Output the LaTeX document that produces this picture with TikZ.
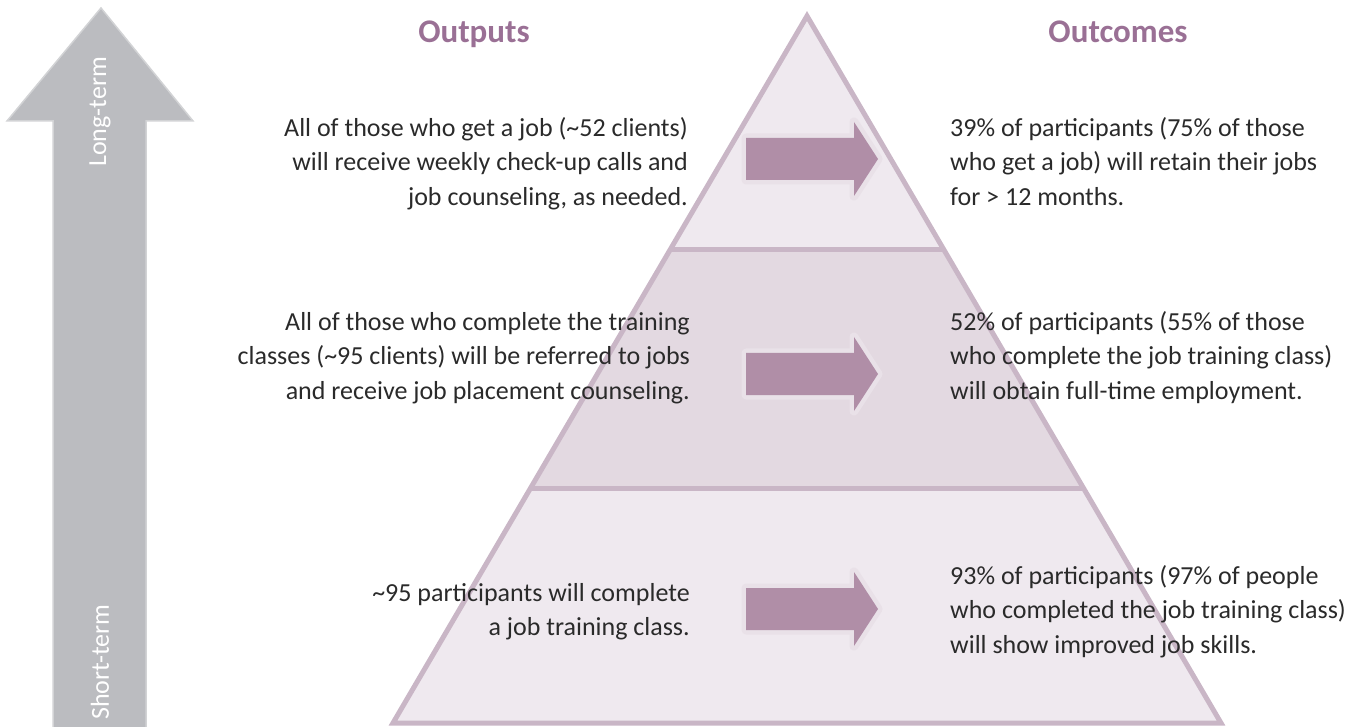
\documentclass[tikz,border=0pt]{standalone}
\usepackage{fontspec}
\setmainfont{Carlito}
\definecolor{grayfill}{HTML}{BBBCC0}
\definecolor{grayedge}{HTML}{D2D3D5}
\definecolor{tierlight}{HTML}{EFE9EF}
\definecolor{tiermid}{HTML}{E3D9E1}
\definecolor{pyrline}{HTML}{C9B6C6}
\definecolor{arrowfill}{HTML}{B08EA7}
\definecolor{arrowedge}{HTML}{E9E1E8}
\definecolor{headcol}{HTML}{9A7095}
\definecolor{bodycol}{HTML}{2A2A2A}
\newcommand\fl{\rule{0pt}{22pt}}
\tikzset{
  tierA/.style={fill=tierlight},
  tierB/.style={fill=tiermid},
  pyrstroke/.style={draw=pyrline, line width=5pt},
  header/.style={font=\fontsize{33}{36}\selectfont\bfseries, text=headcol, inner sep=0pt},
  lefttext/.style={font=\fontsize{26}{34.5}\selectfont, text=bodycol, align=right, anchor=north east, inner sep=0pt},
  righttext/.style={font=\fontsize{26}{34.5}\selectfont, text=bodycol, align=left, anchor=north west, inner sep=0pt},
  termtext/.style={font=\fontsize{26}{28}\selectfont, text=white, rotate=90, inner sep=0pt},
  flowarrow/.pic={
    \path[draw=arrowedge, line width=9pt, line join=round, fill=arrowedge]
      (-54,-21) -- (54,-21) -- (54,-37) -- (78,0) -- (54,37) -- (54,21) -- (-54,21) -- cycle;
    \path[fill=arrowfill]
      (-54,-21) -- (54,-21) -- (54,-37) -- (78,0) -- (54,37) -- (54,21) -- (-54,21) -- cycle;
  }
}
\begin{document}
\begin{tikzpicture}[x=1pt,y=-1pt]
\useasboundingbox (0,0) rectangle (1366,727);
% time arrow
\path[fill=grayfill, draw=grayedge, line width=1.5pt]
  (53,730) -- (53,121) -- (7,121) -- (101,8) -- (193,121) -- (146,121) -- (146,730) -- cycle;
\node[termtext] (lt) at (100,112) {Long-term};
\node[termtext] (st) at (100,662) {Short-term};
% pyramid tiers
\path[tierA] (807,16) -- (669,250) -- (945,250) -- cycle;
\path[tierB] (669,250) -- (531,488) -- (1083,488) -- (945,250) -- cycle;
\path[tierA] (531,488) -- (393,723) -- (1221,723) -- (1083,488) -- cycle;
\path[pyrstroke] (807,16) -- (393,723) -- (1221,723) -- cycle;
\path[pyrstroke] (669,250) -- (945,250);
\path[pyrstroke] (531,488) -- (1083,488);
% flow arrows
\pic at (800,159) {flowarrow};
\pic at (800,374) {flowarrow};
\pic at (800,609) {flowarrow};
% headers
\node[header, anchor=base] (hout) at (474,43) {Outputs};
\node[header, anchor=base] (hoc) at (1118,43) {Outcomes};
% outputs
\node[lefttext] (o1) at (688,114) {\fl All of those who get a job (\textasciitilde52 clients)\\will receive weekly check-up calls and\\job counseling, as needed.};
\node[lefttext] (o2) at (690,308) {\fl All of those who complete the training\\classes (\textasciitilde95 clients) will be referred to jobs\\and receive job placement counseling.};
\node[lefttext] (o3) at (690,579) {\fl \textasciitilde95 participants will complete\\a job training class.};
% outcomes
\node[righttext] (c1) at (950,114) {\fl 39\% of participants (75\% of those\\who get a job) will retain their jobs\\for > 12 months.};
\node[righttext] (c2) at (950,308) {\fl 52\% of participants (55\% of those\\who complete the job training class)\\will obtain full-time employment.};
\node[righttext] (c3) at (950,562) {\fl 93\% of participants (97\% of people\\who completed the job training class)\\will show improved job skills.};
\end{tikzpicture}
\end{document}
